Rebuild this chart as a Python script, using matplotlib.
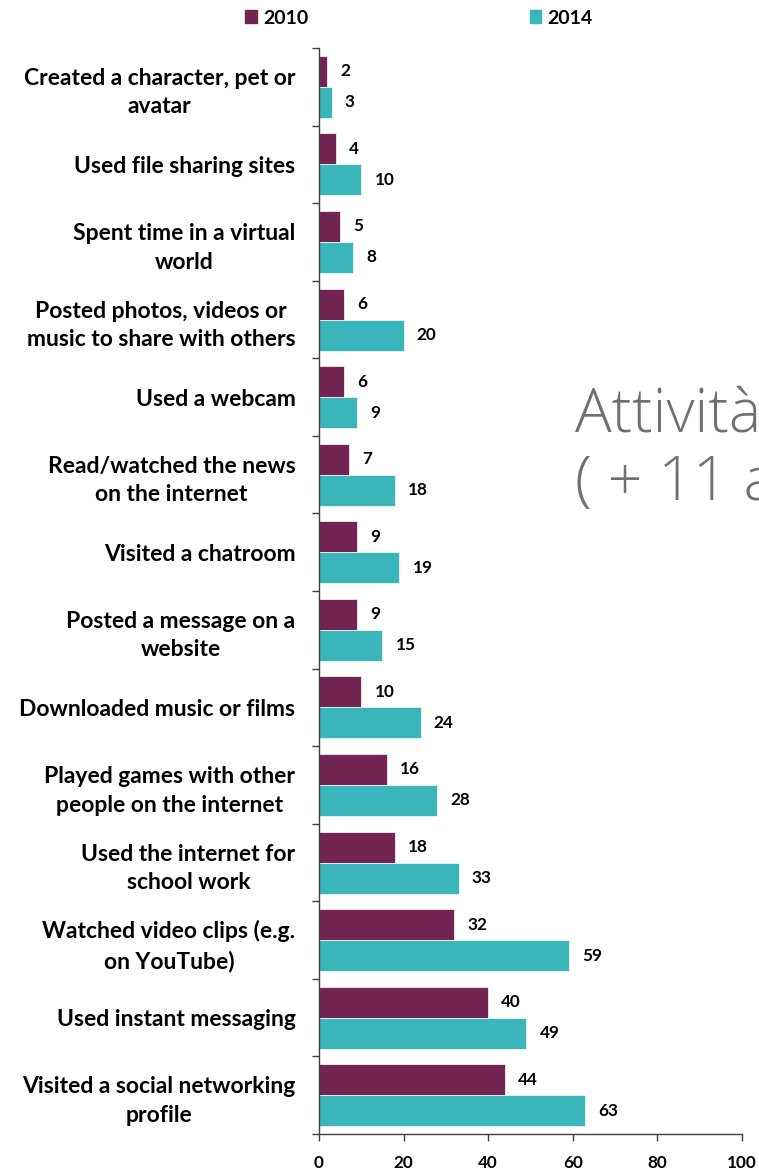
import matplotlib
matplotlib.use("Agg")
import matplotlib.pyplot as plt
from matplotlib.patches import Patch
import numpy as np

categories = [
    "Created a character, pet or\navatar",
    "Used file sharing sites",
    "Spent time in a virtual\nworld",
    "Posted photos, videos or\nmusic to share with others",
    "Used a webcam",
    "Read/watched the news\non the internet",
    "Visited a chatroom",
    "Posted a message on a\nwebsite",
    "Downloaded music or films",
    "Played games with other\npeople on the internet",
    "Used the internet for\nschool work",
    "Watched video clips (e.g.\non YouTube)",
    "Used instant messaging",
    "Visited a social networking\nprofile",
]
pct_2010 = [2, 4, 5, 6, 6, 7, 9, 9, 10, 16, 18, 32, 40, 44]
pct_2014 = [3, 10, 8, 20, 9, 18, 19, 15, 24, 28, 33, 59, 49, 63]
x_ticks = [0, 20, 40, 60, 80, 100]

C_2010 = "#722552"
C_2014 = "#3AB5B9"
AXIS = "#404040"
FONT = ["Lato", "DejaVu Sans"]

plt.rcParams["font.family"] = FONT

fig = plt.figure(figsize=(7.59, 11.69), dpi=100)
ax = fig.add_axes([0.4203, 0.0299, 0.5573, 0.9290])

y = np.arange(len(categories))
h = 0.4
ax.barh(y - h / 2, pct_2010, height=h, color=C_2010, edgecolor="#f2eef0", linewidth=0.6)
ax.barh(y + h / 2, pct_2014, height=h, color=C_2014, edgecolor="#eaf6f6", linewidth=0.6)

for yi, v in zip(y, pct_2010):
    ax.annotate(str(v), (v, yi - h / 2), xytext=(9.5, 0), textcoords="offset points",
                va="center", ha="left", fontsize=12.3, fontweight="bold")
for yi, v in zip(y, pct_2014):
    ax.annotate(str(v), (v, yi + h / 2), xytext=(9.5, 0), textcoords="offset points",
                va="center", ha="left", fontsize=12.3, fontweight="bold")

ax.set_xlim(0, 100)
ax.set_ylim(len(categories) - 0.5, -0.5)
ax.set_xticks(x_ticks)
ax.set_xticklabels([str(t) for t in x_ticks], fontsize=12.3, fontweight="bold")
ax.tick_params(axis="x", direction="out", length=5, width=1, color=AXIS, pad=10)

# group boundaries get the tick marks, group centres carry the labels
ax.set_yticks(np.arange(-0.5, len(categories), 1.0))
ax.set_yticklabels([])
ax.tick_params(axis="y", which="major", direction="out", length=5, width=1, color=AXIS)
ax.set_yticks(y, minor=True)
ax.set_yticklabels(categories, minor=True, fontsize=16.5, fontweight="bold",
                   multialignment="center", linespacing=1.45)
ax.tick_params(axis="y", which="minor", length=0, pad=17)

for side in ("top", "right"):
    ax.spines[side].set_visible(False)
for side in ("left", "bottom"):
    ax.spines[side].set_color(AXIS)
    ax.spines[side].set_linewidth(1)

handles = [Patch(color=C_2010, label="2010"), Patch(color=C_2014, label="2014")]
fig.legend(handles=handles, ncol=2, loc="center", bbox_to_anchor=(0.552, 0.9846),
           frameon=False, handlelength=0.6, handleheight=0.6, handletextpad=0.3,
           columnspacing=11.4, prop={"weight": "bold", "size": 14})

# slide title overlapping the chart, running off the right edge
fig.text(0.757, 1 - 500 / 1169, "Attività\n( + 11 anni )", fontsize=44, color="#707070",
         family=["Open Sans", "DejaVu Sans"], fontweight="light",
         ha="left", va="baseline", linespacing=1.15)

fig.savefig("out.png", dpi=100)
